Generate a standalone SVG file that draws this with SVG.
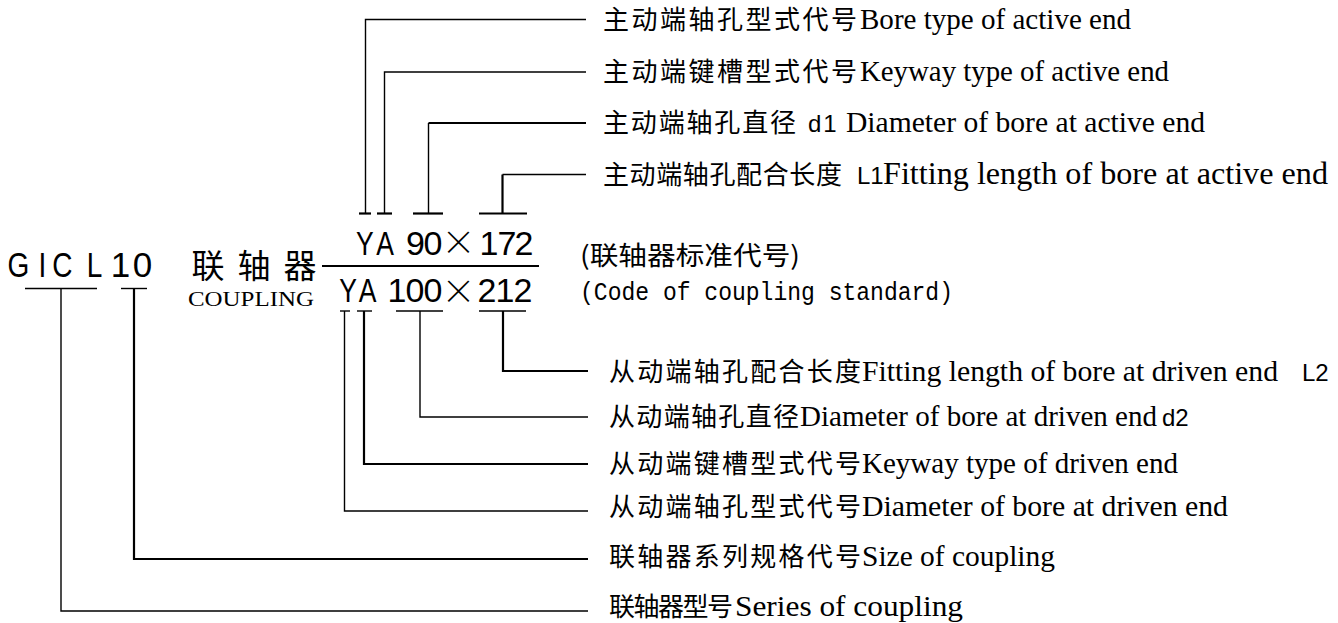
<svg xmlns="http://www.w3.org/2000/svg" width="1338" height="623" viewBox="0 0 1338 623" xml:space="preserve">
<style>
.cjk{font-family:"Noto Sans CJK SC","Noto Sans CJK JP",sans-serif;font-size:26px;fill:#000}
.lat{font-family:"Liberation Serif",serif;font-size:30px;fill:#000}
.hei{font-family:"Liberation Sans",sans-serif;font-size:24px;fill:#000}
.big{font-family:"Liberation Sans",sans-serif;font-size:34px;fill:#000;text-anchor:middle}
.mul{font-family:"Noto Sans CJK SC",sans-serif;font-weight:300;font-size:34px;fill:#000;text-anchor:middle}
.ln{fill:none;stroke:#000;stroke-width:1.4}
.lnb{fill:none;stroke:#000;stroke-width:2.2}
</style>
<rect width="1338" height="623" fill="#fff"/>
<g id="connectors">
  <path class="lnb" d="M359 213.5H371"/><path class="ln" d="M365.5 213.5V19.5H586"/>
  <path class="lnb" d="M377 213.5H392"/><path class="ln" d="M384.5 213.5V72H586"/>
  <path class="lnb" d="M413 213.5H443"/><path class="ln" d="M428.5 213.5V123"/><path class="lnb" d="M428.5 123H586"/>
  <path class="lnb" d="M479 213.5H527"/><path class="lnb" d="M502.5 213.5V174.5"/><path class="ln" d="M502.5 174.5H586"/>
  <path class="lnb" d="M322 266H539"/>
  <path class="ln" d="M479 311H526"/><path class="lnb" d="M503 311V371H588"/>
  <path class="ln" d="M396 311H443"/><path class="ln" d="M420 311V417H588"/>
  <path class="ln" d="M357 311H372"/><path class="lnb" d="M364 311V464H588"/>
  <path class="ln" d="M340 311H350"/><path class="ln" d="M344.5 311V511H588"/>
  <path class="ln" d="M121 288.5H147"/><path class="lnb" d="M134 288.5V559H588"/>
  <path class="ln" d="M25 288.5H97"/><path class="ln" d="M61 288.5V611H588"/>
</g>
<g id="model-code">
  <text class="big" transform="scale(0.8,1)" x="23.1 53.1 78.1 118.1" y="277" style="font-size:35px">GICL</text>
  <text class="big" x="120.5 142.5" y="277" style="font-size:35px">10</text>
</g>
<g id="coupling-name">
  <text class="cjk" x="208 254 300" y="277.5" style="font-size:33px;text-anchor:middle">联轴器</text>
  <text class="lat" x="188" y="306" style="font-size:21px" textLength="126" lengthAdjust="spacingAndGlyphs">COUPLING</text>
</g>
<g id="active-spec">
  <text class="big" transform="scale(0.78,1)" x="467.9 493.6" y="255">YA</text>
  <text class="big" x="415.5 433" y="255">90</text>
  <text class="mul" x="458.5" y="255">×</text>
  <text class="big" x="489 507 524" y="255">172</text>
</g>
<g id="driven-spec">
  <text class="big" transform="scale(0.78,1)" x="446.2 471.2" y="302">YA</text>
  <text class="big" x="397 415 433" y="302">100</text>
  <text class="mul" x="458.5" y="304">×</text>
  <text class="big" x="487 505 523" y="302">212</text>
</g>
<g id="standard-code">
  <text class="cjk" x="580" y="265" textLength="220" lengthAdjust="spacingAndGlyphs">(联轴器标准代号)</text>
  <text x="580" y="300" style="font-family:'Liberation Mono',monospace;font-size:25px" textLength="373" lengthAdjust="spacingAndGlyphs">(Code of coupling standard)</text>
</g>
<g id="label-bore-type-active">
  <text class="cjk" x="603" y="29" textLength="254" lengthAdjust="spacing">主动端轴孔型式代号</text>
  <text class="lat" x="860" y="29" textLength="271" lengthAdjust="spacingAndGlyphs">Bore type of active end</text>
</g>
<g id="label-keyway-active">
  <text class="cjk" x="603" y="81" textLength="254" lengthAdjust="spacing">主动端键槽型式代号</text>
  <text class="lat" x="860" y="81" textLength="309" lengthAdjust="spacingAndGlyphs">Keyway type of active end</text>
</g>
<g id="label-diameter-active">
  <text class="cjk" x="603" y="132" textLength="193" lengthAdjust="spacing">主动端轴孔直径</text>
  <text class="hei" x="808" y="132" style="letter-spacing:2px">d1</text>
  <text class="lat" x="846" y="132" textLength="359" lengthAdjust="spacingAndGlyphs">Diameter of bore at  active end</text>
</g>
<g id="label-length-active">
  <text class="cjk" x="603" y="183.5" textLength="239" lengthAdjust="spacing">主动端轴孔配合长度</text>
  <text class="hei" x="857" y="183.5">L1</text>
  <text class="lat" x="883" y="183.5" style="font-size:31px" textLength="445" lengthAdjust="spacingAndGlyphs">Fitting length of bore at  active end</text>
</g>
<g id="label-length-driven">
  <text class="cjk" x="609" y="381" textLength="252" lengthAdjust="spacing">从动端轴孔配合长度</text>
  <text class="lat" x="862" y="381" textLength="416" lengthAdjust="spacingAndGlyphs">Fitting length of bore at  driven end</text>
  <text class="hei" x="1302" y="381">L2</text>
</g>
<g id="label-diameter-driven">
  <text class="cjk" x="609" y="426" textLength="190" lengthAdjust="spacing">从动端轴孔直径</text>
  <text class="lat" x="800" y="426" style="font-size:28.4px" textLength="357" lengthAdjust="spacingAndGlyphs">Diameter of bore at  driven end</text>
  <text class="hei" x="1162" y="426">d2</text>
</g>
<g id="label-keyway-driven">
  <text class="cjk" x="609" y="473" textLength="252" lengthAdjust="spacing">从动端键槽型式代号</text>
  <text class="lat" x="862" y="473" textLength="316" lengthAdjust="spacingAndGlyphs">Keyway type of driven end</text>
</g>
<g id="label-bore-type-driven">
  <text class="cjk" x="609" y="516" textLength="252" lengthAdjust="spacing">从动端轴孔型式代号</text>
  <text class="lat" x="862" y="516" textLength="366" lengthAdjust="spacingAndGlyphs">Diameter of bore at  driven end</text>
</g>
<g id="label-size">
  <text class="cjk" x="609" y="566" textLength="252" lengthAdjust="spacing">联轴器系列规格代号</text>
  <text class="lat" x="862" y="566" textLength="193" lengthAdjust="spacingAndGlyphs">Size of coupling</text>
</g>
<g id="label-series">
  <text class="cjk" x="609" y="616" textLength="124" lengthAdjust="spacing">联轴器型号</text>
  <text class="lat" x="735" y="616" textLength="228" lengthAdjust="spacingAndGlyphs">Series of coupling</text>
</g>
</svg>
